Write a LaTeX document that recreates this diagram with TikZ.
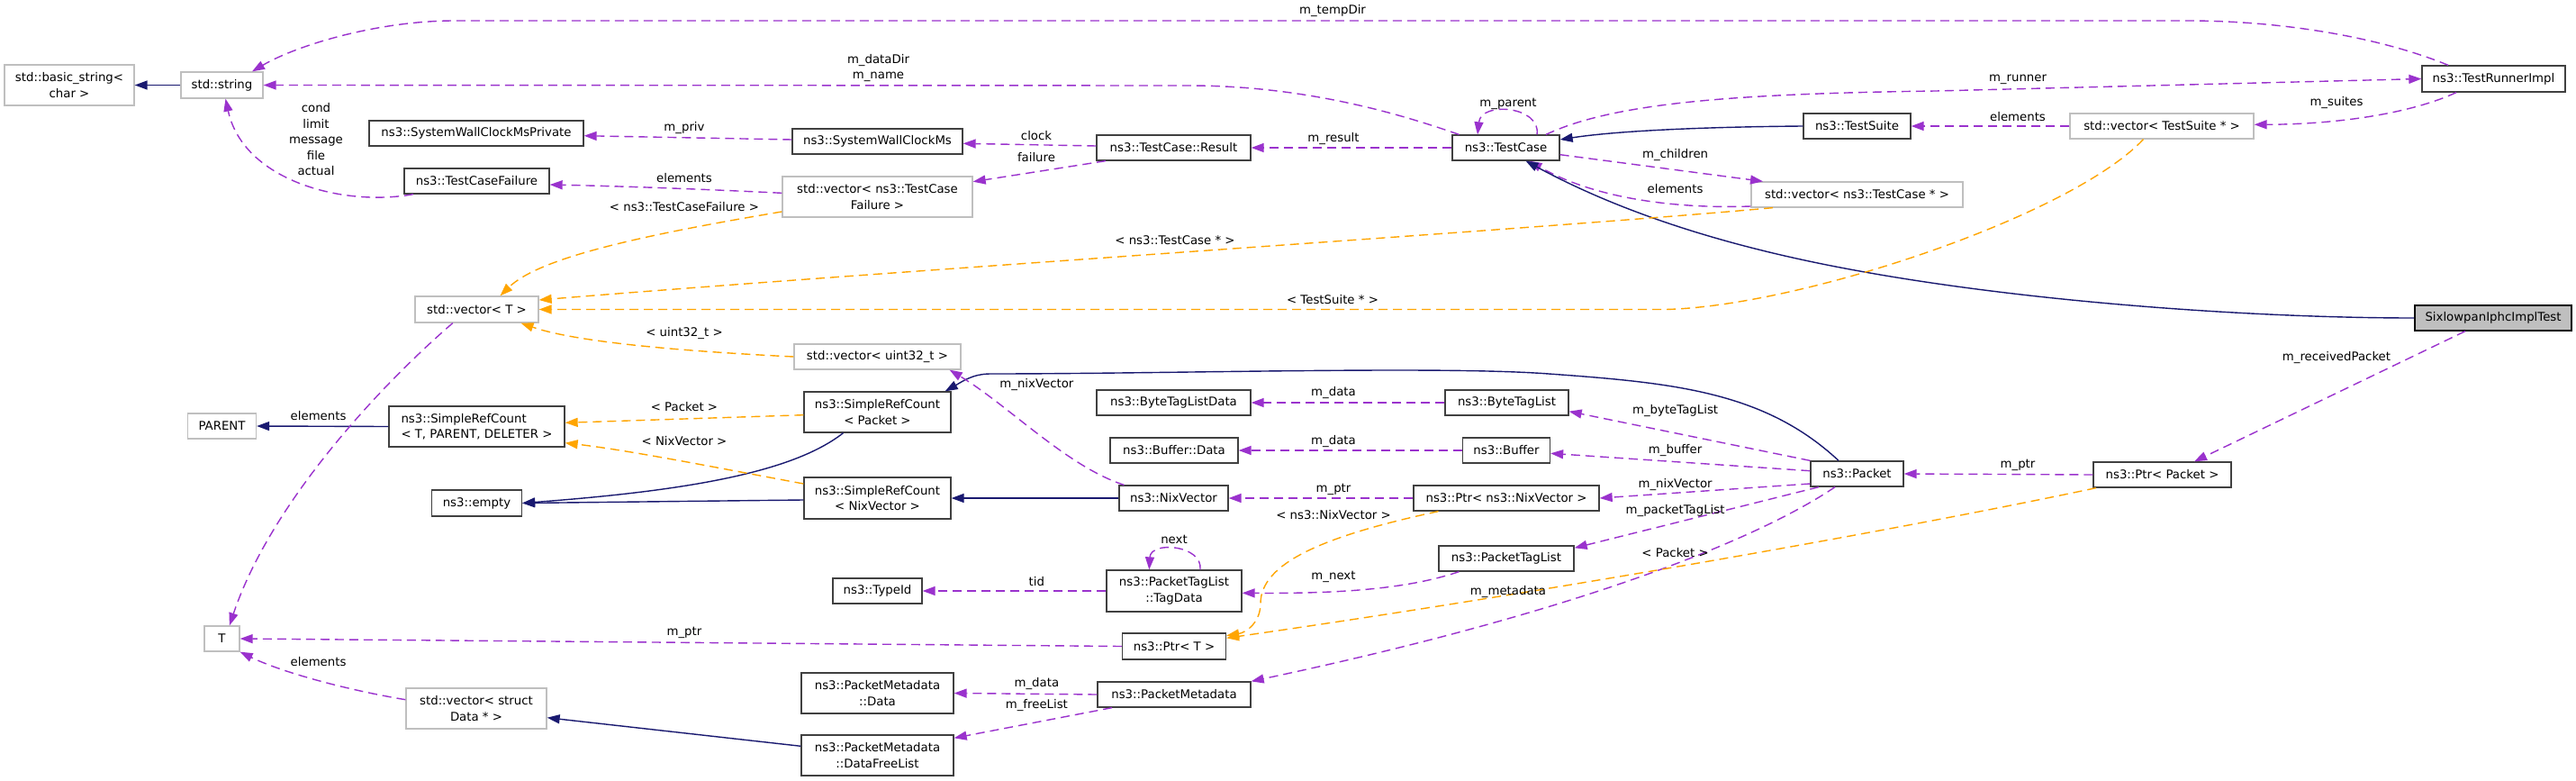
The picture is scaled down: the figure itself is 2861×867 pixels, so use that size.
\documentclass[tikz,border=0pt]{standalone}
\usepackage{fontspec}
\setmainfont{DejaVu Sans}
\usetikzlibrary{arrows.meta}
\definecolor{edgepurple}{HTML}{9A32CD}
\definecolor{edgeorange}{HTML}{FFA500}
\definecolor{edgenavy}{HTML}{191970}
\definecolor{boxdark}{HTML}{404040}
\definecolor{boxgray}{HTML}{BFBFBF}
\newcommand{\dgfont}{\fontsize{13.3}{17.5}\selectfont}
\tikzset{
  cls/.style={draw=boxdark, line width=1.3pt, rectangle, inner sep=0pt, align=center, font=\dgfont, fill=white},
  ext/.style={cls, draw=boxgray},
  lbl/.style={inner sep=0pt, align=center, font=\dgfont},
  usee/.style={draw=edgepurple, line width=1.4pt, dash pattern=on 10pt off 6pt, -{Triangle[length=14pt,width=10pt]}},
  tmpl/.style={usee, draw=edgeorange},
  inh/.style={draw=edgenavy, line width=1.4pt, -{Triangle[length=14pt,width=10pt]}}
}
\begin{document}
\begin{tikzpicture}[x=1pt,y=-1pt]
\fill[white] (0,0) rectangle (2861,867);
\useasboundingbox (0,0) rectangle (2861,867);

% nodes
\node[ext,minimum width=144pt,minimum height=45pt] (basic) at (77,94.5) {std::basic\_string<\\char >};
\node[ext,minimum width=91pt,minimum height=29pt] (string) at (246.5,94.5) {std::string};
\node[cls,minimum width=238pt,minimum height=28pt] (swcmp) at (529,148) {ns3::SystemWallClockMsPrivate};
\node[cls,minimum width=161pt,minimum height=28pt] (tcf) at (529.5,201) {ns3::TestCaseFailure};
\node[cls,minimum width=189pt,minimum height=28pt] (swcm) at (974.5,157) {ns3::SystemWallClockMs};
\node[ext,minimum width=211pt,minimum height=45pt] (vtcf) at (974.5,218.5) {std::vector< ns3::TestCase\\Failure >};
\node[cls,minimum width=171pt,minimum height=28pt] (result) at (1303.5,164) {ns3::TestCase::Result};
\node[cls,minimum width=119pt,minimum height=28pt] (testcase) at (1672.5,164) {ns3::TestCase};
\node[cls,minimum width=119pt,minimum height=28pt] (testsuite) at (2062.5,140) {ns3::TestSuite};
\node[ext,minimum width=235pt,minimum height=28pt] (vtc) at (2062.5,216) {std::vector< ns3::TestCase * >};
\node[cls,minimum width=159pt,minimum height=29pt] (runner) at (2769.5,87.5) {ns3::TestRunnerImpl};
\node[ext,minimum width=204pt,minimum height=28pt] (vts) at (2401,140) {std::vector< TestSuite * >};
\node[cls,fill=boxgray,draw=black,minimum width=174pt,minimum height=28pt] (six) at (2769,353) {SixlowpanIphcImplTest};
\node[ext,minimum width=137pt,minimum height=29pt] (vT) at (529.5,343.5) {std::vector< T >};
\node[ext,minimum width=185pt,minimum height=28pt] (vu32) at (974.5,396) {std::vector< uint32\_t >};
\node[cls,minimum width=163pt,minimum height=45pt] (srcP) at (974.5,457.5) {ns3::SimpleRefCount\\< Packet >};
\node[cls,minimum width=163pt,minimum height=46pt] (srcN) at (974.5,553) {ns3::SimpleRefCount\\< NixVector >};
\node[ext,minimum width=76pt,minimum height=28pt] (parent) at (246.5,473) {PARENT};
\node[cls,align=left,minimum width=195pt,minimum height=45pt] (srcT) at (529.5,473.5) {ns3::SimpleRefCount\\< T, PARENT, DELETER >};
\node[cls,minimum width=100pt,minimum height=29pt] (empty) at (529.5,558.5) {ns3::empty};
\node[cls,minimum width=171pt,minimum height=28pt] (btld) at (1303.5,447) {ns3::ByteTagListData};
\node[cls,minimum width=142pt,minimum height=28pt] (bufdata) at (1304,500) {ns3::Buffer::Data};
\node[cls,minimum width=121pt,minimum height=28pt] (nix) at (1303.5,553) {ns3::NixVector};
\node[cls,minimum width=137pt,minimum height=28pt] (btl) at (1673.5,447) {ns3::ByteTagList};
\node[cls,minimum width=97pt,minimum height=28pt] (buffer) at (1673,500) {ns3::Buffer};
\node[cls,minimum width=206pt,minimum height=28pt] (ptrnix) at (1673,553) {ns3::Ptr< ns3::NixVector >};
\node[cls,minimum width=150pt,minimum height=28pt] (ptl) at (1673,620) {ns3::PacketTagList};
\node[cls,minimum width=103pt,minimum height=28pt] (packet) at (2062.5,526) {ns3::Packet};
\node[cls,minimum width=153pt,minimum height=28pt] (ptrpkt) at (2401.5,527) {ns3::Ptr< Packet >};
\node[cls,minimum width=99pt,minimum height=28pt] (typeid) at (974.5,656) {ns3::TypeId};
\node[cls,minimum width=150pt,minimum height=46pt] (tagdata) at (1304,656) {ns3::PacketTagList\\::TagData};
\node[cls,minimum width=115pt,minimum height=29pt] (ptrT) at (1304,717.5) {ns3::Ptr< T >};
\node[cls,minimum width=169pt,minimum height=45pt] (pmdata) at (974.5,769.5) {ns3::PacketMetadata\\::Data};
\node[cls,minimum width=170pt,minimum height=28pt] (pm) at (1304,771) {ns3::PacketMetadata};
\node[cls,minimum width=169pt,minimum height=45pt] (dfl) at (974.5,838.5) {ns3::PacketMetadata\\::DataFreeList};
\node[ext,minimum width=39pt,minimum height=28pt] (T) at (246.5,709) {T};
\node[ext,minimum width=156pt,minimum height=45pt] (vsd) at (529,786.5) {std::vector< struct\\Data * >};

% edges
\draw[inh] (string.west) -- (basic.east);
\draw[usee] ([xshift=-50.5pt]runner.north) .. controls (2640,40) and (2530,23) .. (2430,23) -- (505,23) .. controls (420,23) and (330,50) .. ([xshift=33.5pt]string.north);
\draw[usee] ([xshift=-52pt]testcase.north) .. controls (1570,132) and (1460,95) .. (1320,95) -- (string.east);
\draw[usee] ([xshift=-70.5pt]tcf.south) .. controls (380,230) and (270,200) .. ([xshift=4pt]string.south);
\draw[usee] ([yshift=2pt]swcm.west) -- ([yshift=-2.7pt]swcmp.east);
\draw[usee] ([yshift=2pt]result.west) -- ([yshift=-2.3pt]swcm.east);
\draw[usee] ([xshift=-75.5pt]result.south) -- ([yshift=16.8pt]vtcf.east);
\draw[usee] ([yshift=4.2pt]vtcf.west) .. controls (780,210) and (700,207) .. ([yshift=-4pt]tcf.east);
\draw[usee] (testcase.west) -- (result.east);
\draw[usee] ([xshift=34.5pt]testcase.north) .. controls (1712,118) and (1645,112) .. ([xshift=-31.5pt]testcase.north);
\draw[usee] ([xshift=44.5pt]testcase.north) .. controls (1790,115) and (1920,104) .. (2150,101) -- (runner.west);
\draw[inh] (testsuite.west) .. controls (1880,141) and (1790,146) .. ([yshift=9pt]testcase.east);
\draw[usee] ([yshift=-7.7pt]testcase.east) -- ([xshift=-104.5pt]vtc.north);
\draw[usee] ([yshift=-13pt]vtc.west) .. controls (1860,232) and (1770,220) .. ([xshift=26pt]testcase.south);
\draw[usee] ([xshift=-41.5pt]runner.south) .. controls (2680,125) and (2600,138) .. ([yshift=1.7pt]vts.east);
\draw[usee] (vts.west) -- (testsuite.east);
\draw[inh] (six.west) .. controls (2500,353) and (2250,335) .. (2060,300) .. controls (1890,269) and (1780,225) .. ([xshift=22pt]testcase.south);
\draw[usee] ([xshift=-31pt]six.south) -- ([xshift=35.5pt]ptrpkt.north);
\draw[usee] (ptrpkt.west) -- (packet.east);
\draw[inh] ([xshift=-20.5pt]packet.north) .. controls (1960,435) and (1860,425) .. (1720,415) .. controls (1600,406) and (1300,415) .. (1100,415) .. controls (1080,415) and (1068,424) .. ([xshift=-7pt]srcP.north east);
\draw[usee] (packet.north west) -- ([yshift=-9.7pt]btl.east);
\draw[usee] (btl.west) -- (btld.east);
\draw[usee] ([yshift=3.3pt]packet.west) -- ([yshift=-3.3pt]buffer.east);
\draw[usee] (buffer.west) -- (bufdata.east);
\draw[usee] ([yshift=-11pt]packet.west) -- (ptrnix.east);
\draw[usee] (ptrnix.west) -- (nix.east);
\draw[usee] ([xshift=-55pt]nix.north) .. controls (1185,518) and (1120,450) .. ([xshift=-13pt]vu32.south east);
\draw[inh] (nix.west) -- (srcN.east);
\draw[inh] ([xshift=-38pt]srcP.south) .. controls (880,525) and (760,545) .. (empty.east);
\draw[inh] ([yshift=-2pt]srcN.west) -- (empty.east);
\draw[inh] (srcT.west) -- (parent.east);
\draw[tmpl] ([yshift=-16.5pt]vtcf.west) .. controls (720,260) and (600,285) .. ([xshift=26pt]vT.north);
\draw[tmpl] ([xshift=-93.5pt]vtc.south) .. controls (1700,255) and (1000,300) .. ([yshift=10.5pt]vT.east);
\draw[tmpl] ([xshift=-20.5pt]vts.south) .. controls (2300,240) and (2000,340) .. (1850,343.5) -- (vT.east);
\draw[tmpl] (vu32.west) .. controls (760,390) and (640,380) .. ([xshift=49pt]vT.south);
\draw[tmpl] ([yshift=-3.2pt]srcP.west) -- ([yshift=4.2pt]srcT.east);
\draw[tmpl] ([yshift=16pt]srcN.west) .. controls (800,520) and (700,500) .. ([yshift=-18.2pt]srcT.east);
\draw[usee] ([xshift=-26.7pt]vT.south) .. controls (420,430) and (300,560) .. ([xshift=8.4pt]T.north);
\draw[usee] (ptrT.west) -- (T.east);
\draw[usee] ([yshift=9.8pt]vsd.west) .. controls (380,765) and (310,745) .. (T.south east);
\draw[inh] ([yshift=10.2pt]dfl.west) -- ([yshift=-10.2pt]vsd.east);
\draw[usee] (pm.west) -- (pmdata.east);
\draw[usee] ([xshift=-69pt]pm.south) -- ([yshift=19.2pt]dfl.east);
\draw[usee] ([xshift=-24.5pt]packet.south) .. controls (1950,600) and (1750,680) .. (pm.north east);
\draw[usee] ([xshift=-42.5pt]packet.south) -- ([yshift=11.7pt]ptl.east);
\draw[usee] ([xshift=-52.6pt]ptl.south) .. controls (1560,655) and (1480,659) .. ([yshift=-2.3pt]tagdata.east);
\draw[usee] ([xshift=29pt]tagdata.north) .. controls (1336,605) and (1278,600) .. ([xshift=-27.7pt]tagdata.north);
\draw[usee] (tagdata.west) -- (typeid.east);
\draw[tmpl] ([xshift=-75.5pt]ptrnix.south) .. controls (1470,595) and (1400,625) .. (1400,670) .. controls (1400,690) and (1385,702) .. ([yshift=-3.3pt]ptrT.north east);
\draw[tmpl] ([xshift=-73.5pt]ptrpkt.south) .. controls (2100,590) and (1700,660) .. ([yshift=9.2pt]ptrT.east);

% labels
\node[lbl] (l1) at (1480,12) {m\_tempDir};
\node[lbl] (l2) at (975.5,75.5) {m\_dataDir\\m\_name};
\node[lbl] (l3) at (351,155) {cond\\limit\\message\\file\\actual};
\node[lbl] (l4) at (760,142) {m\_priv};
\node[lbl] (l5) at (1151,151) {clock};
\node[lbl] (l6) at (1151,175) {failure};
\node[lbl] (l7) at (760,198) {elements};
\node[lbl] (l8) at (760,230) {< ns3::TestCaseFailure >};
\node[lbl] (l9) at (1305,267) {< ns3::TestCase * >};
\node[lbl] (l10) at (1481,154) {m\_result};
\node[lbl] (l11) at (1675,115) {m\_parent};
\node[lbl] (l12) at (1860.6,172) {m\_children};
\node[lbl] (l13) at (1860.6,210) {elements};
\node[lbl] (l14) at (2241,88) {m\_runner};
\node[lbl] (l15) at (2595,114) {m\_suites};
\node[lbl] (l16) at (2241,130) {elements};
\node[lbl] (l17) at (1480,333) {< TestSuite * >};
\node[lbl] (l18) at (2595,397) {m\_receivedPacket};
\node[lbl] (l19) at (2241,516) {m\_ptr};
\node[lbl] (l20) at (760,370) {< uint32\_t >};
\node[lbl] (l21) at (760,452) {< Packet >};
\node[lbl] (l22) at (760,490) {< NixVector >};
\node[lbl] (l23) at (1151.4,427) {m\_nixVector};
\node[lbl] (l24) at (1481,436) {m\_data};
\node[lbl] (l25) at (1481,490) {m\_data};
\node[lbl] (l26) at (1481,543) {m\_ptr};
\node[lbl] (l27) at (1481,572) {< ns3::NixVector >};
\node[lbl] (l28) at (1860.6,456) {m\_byteTagList};
\node[lbl] (l29) at (1860.6,500) {m\_buffer};
\node[lbl] (l30) at (1860.6,538) {m\_nixVector};
\node[lbl] (l31) at (1860.6,567) {m\_packetTagList};
\node[lbl] (l32) at (1860.6,614) {< Packet >};
\node[lbl] (l33) at (1675,657) {m\_metadata};
\node[lbl] (l34) at (1481,640) {m\_next};
\node[lbl] (l35) at (353.6,462) {elements};
\node[lbl] (l36) at (353.6,735) {elements};
\node[lbl] (l37) at (1304,599) {next};
\node[lbl] (l38) at (1151.4,646) {tid};
\node[lbl] (l39) at (760,702) {m\_ptr};
\node[lbl] (l40) at (1151.4,759) {m\_data};
\node[lbl] (l41) at (1151.4,783) {m\_freeList};
\end{tikzpicture}
\end{document}
